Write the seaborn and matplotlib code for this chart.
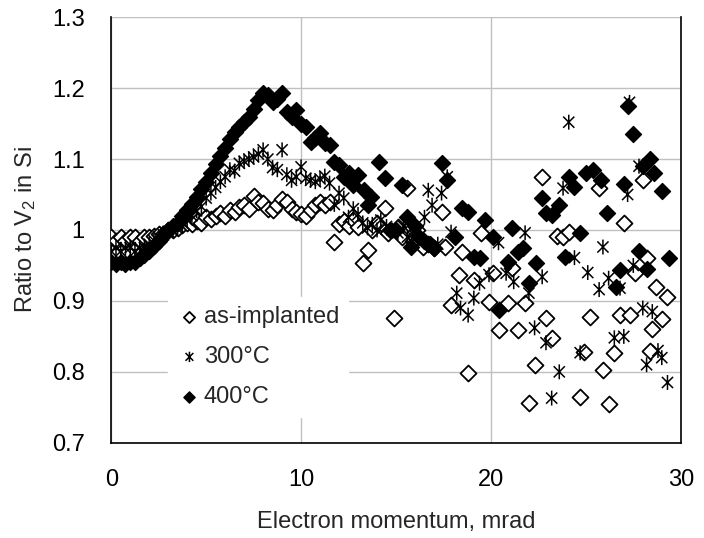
import numpy as np
import pandas as pd
import seaborn as sns
import matplotlib.pyplot as plt
from matplotlib.path import Path

# as-implanted (open diamonds)
x_asimp = [0, 0.25, 0.5, 0.75, 1.0, 1.25, 1.5, 1.75, 2.0, 2.25, 2.5, 2.75, 3.0, 3.25, 3.5, 3.75,
           4.0, 4.25, 4.5, 4.75, 5.0, 5.25, 5.5, 5.75, 6.0, 6.25, 6.5, 6.75, 7.0, 7.25, 7.5, 7.75,
           8.0, 8.25, 8.5, 8.75, 9.0, 9.25, 9.5, 9.75, 10.0, 10.25, 10.5, 10.75, 11.0, 11.25, 11.5,
           11.75, 12.0, 12.25, 12.5, 12.75, 13.0, 13.25, 13.5, 13.75, 14.0, 14.4, 14.6, 14.9, 15.1,
           15.3, 15.6, 15.9, 16.1, 16.4, 16.7, 17.0, 17.4, 17.6, 17.9, 18.3, 18.5, 18.8, 19.1, 19.5,
           19.9, 20.1, 20.4, 20.9, 21.1, 21.4, 21.8, 22.0, 22.3, 22.7, 22.9, 23.2, 23.5, 23.8, 24.1,
           24.7, 24.9, 25.2, 25.7, 25.9, 26.2, 26.5, 26.8, 27.0, 27.3, 27.6, 28.0, 28.2, 28.4, 28.5,
           28.7, 29.0, 29.3]
y_asimp = [0.99, 0.985, 0.99, 0.985, 0.99, 0.99, 0.985, 0.99, 0.99, 0.992, 0.995, 0.995, 1.0, 1.0,
           1.003, 1.007, 1.01, 1.008, 1.013, 1.01, 1.018, 1.015, 1.02, 1.024, 1.02, 1.028, 1.025,
           1.032, 1.035, 1.03, 1.048, 1.04, 1.038, 1.03, 1.028, 1.035, 1.044, 1.04, 1.03, 1.025,
           1.022, 1.02, 1.028, 1.035, 1.04, 1.035, 1.04, 0.983, 1.008, 1.012, 1.005, 1.014, 1.004,
           0.954, 0.972, 1.0, 1.01, 1.031, 0.996, 0.876, 1.004, 0.99, 1.059, 0.985, 1.0, 0.976, 0.98,
           0.975, 1.025, 0.976, 0.894, 0.937, 0.969, 0.799, 0.93, 0.996, 0.899, 0.94, 0.859, 0.897,
           0.946, 0.859, 0.897, 0.756, 0.81, 1.075, 0.876, 0.848, 0.992, 0.99, 0.997, 0.765, 0.828,
           0.877, 1.059, 0.803, 0.754, 0.827, 0.88, 1.01, 0.88, 0.94, 1.07, 0.96, 0.83, 0.86, 0.92,
           0.875, 0.905]

# 300°C (asterisks)
x_300 = [0, 0.25, 0.5, 0.75, 1.0, 1.25, 1.5, 1.75, 2.0, 2.25, 2.5, 2.75, 3.0, 3.25, 3.5, 3.75,
         4.0, 4.25, 4.5, 4.75, 5.0, 5.25, 5.5, 5.75, 6.0, 6.25, 6.5, 6.75, 7.0, 7.25, 7.5, 7.75,
         8.0, 8.25, 8.5, 8.75, 9.0, 9.25, 9.5, 9.75, 10.0, 10.25, 10.5, 10.75, 11.0, 11.25, 11.5,
         11.75, 12.0, 12.25, 12.5, 12.75, 13.0, 13.25, 13.5, 13.75, 14.0, 14.2, 14.5, 14.8, 15.1,
         15.4, 15.6, 15.9, 16.2, 16.5, 16.7, 16.9, 17.2, 17.4, 17.7, 17.9, 18.2, 18.4, 18.8, 19.1,
         19.4, 19.9, 20.4, 20.8, 21.2, 21.8, 22.0, 22.3, 22.7, 22.9, 23.2, 23.6, 23.8, 24.1, 24.4,
         24.7, 25.1, 25.7, 25.9, 26.2, 26.5, 26.8, 27.0, 27.2, 27.3, 27.5, 27.8, 28.0, 28.2, 28.5,
         28.8, 29.0, 29.3]
y_300 = [0.97, 0.975, 0.97, 0.975, 0.975, 0.97, 0.975, 0.975, 0.98, 0.985, 0.99, 0.993, 0.998,
         1.0, 1.005, 1.01, 1.014, 1.02, 1.027, 1.033, 1.045, 1.052, 1.06, 1.068, 1.075, 1.085,
         1.083, 1.094, 1.097, 1.1, 1.103, 1.107, 1.113, 1.1, 1.088, 1.085, 1.113, 1.078, 1.07,
         1.075, 1.089, 1.073, 1.07, 1.068, 1.072, 1.076, 1.066, 1.036, 1.052, 1.045, 1.018, 1.03,
         1.022, 1.01, 1.003, 1.008, 1.0, 1.014, 1.005, 1.0, 0.996, 1.005, 0.99, 0.99, 1.0, 1.018,
         1.056, 1.035, 0.98, 1.052, 1.075, 0.997, 0.911, 0.89, 0.88, 0.904, 0.925, 0.937, 0.982,
         0.939, 0.927, 0.996, 0.911, 0.862, 0.934, 0.841, 0.763, 0.8, 1.059, 1.152, 0.961, 0.827,
         0.94, 0.916, 0.976, 0.932, 0.848, 0.918, 0.85, 1.05, 1.18, 0.95, 1.09, 0.89, 0.81, 0.885,
         0.83, 0.82, 0.785]

# 400°C (filled diamonds)
x_400 = [0, 0.25, 0.5, 0.75, 1.0, 1.25, 1.5, 1.75, 2.0, 2.25, 2.5, 2.75, 3.0, 3.25, 3.5, 3.75,
         4.0, 4.25, 4.5, 4.75, 5.0, 5.25, 5.5, 5.75, 6.0, 6.25, 6.5, 6.75, 7.0, 7.25, 7.5, 7.75,
         8.0, 8.25, 8.5, 8.75, 9.0, 9.25, 9.5, 9.75, 10.0, 10.25, 10.5, 10.75, 11.0, 11.25, 11.5,
         11.75, 12.0, 12.25, 12.5, 12.75, 13.0, 13.3, 13.5, 13.7, 14.1, 14.4, 14.7, 15.0, 15.3,
         15.6, 15.8, 16.0, 16.2, 16.5, 16.8, 17.0, 17.4, 17.7, 18.1, 18.5, 18.8, 19.1, 19.4, 19.7,
         20.1, 20.4, 20.9, 21.1, 21.4, 21.7, 22.0, 22.4, 22.7, 22.9, 23.2, 23.6, 23.9, 24.1, 24.4,
         24.7, 25.0, 25.4, 25.8, 26.1, 26.6, 26.8, 27.0, 27.2, 27.5, 27.8, 28.0, 28.2, 28.4, 28.6,
         29.0, 29.4]
y_400 = [0.955, 0.952, 0.955, 0.952, 0.955, 0.955, 0.96, 0.965, 0.97, 0.978, 0.985, 0.992, 1.0,
         1.005, 1.01, 1.02, 1.028, 1.037, 1.047, 1.058, 1.068, 1.08, 1.093, 1.105, 1.115, 1.128,
         1.138, 1.145, 1.152, 1.16, 1.17, 1.183, 1.193, 1.19, 1.18, 1.185, 1.193, 1.166, 1.16,
         1.169, 1.15, 1.145, 1.124, 1.13, 1.137, 1.122, 1.12, 1.096, 1.091, 1.075, 1.08, 1.063,
         1.077, 1.056, 1.035, 1.046, 1.096, 1.073, 1.0, 1.0, 1.063, 1.018, 0.976, 1.005, 0.99,
         0.985, 0.98, 0.975, 1.094, 1.07, 0.99, 1.031, 1.025, 0.962, 0.961, 1.014, 0.99, 0.887,
         0.955, 1.003, 0.969, 0.975, 0.925, 0.954, 1.045, 1.024, 1.021, 1.035, 0.962, 1.075, 1.061,
         0.996, 1.08, 1.085, 1.07, 1.024, 0.92, 0.944, 1.065, 1.175, 1.135, 0.97, 1.09, 0.945, 1.1,
         1.08, 1.055, 0.96]

x_ticks = [0, 10, 20, 30]
y_ticks = [0.7, 0.8, 0.9, 1.0, 1.1, 1.2, 1.3]
y_ticklabels = ["0.7", "0.8", "0.9", "1", "1.1", "1.2", "1.3"]

# Excel-style star: vertical bar plus an X
star = Path([(0, -1), (0, 1), (-0.75, -0.75), (0.75, 0.75), (-0.75, 0.75), (0.75, -0.75)],
            [Path.MOVETO, Path.LINETO, Path.MOVETO, Path.LINETO, Path.MOVETO, Path.LINETO])

sns.set_style("white")
plt.rcParams["font.family"] = ["Liberation Sans", "DejaVu Sans"]
# keep the subscript in the same face as the rest of the label
plt.rcParams["mathtext.fontset"] = "custom"
plt.rcParams["mathtext.rm"] = "Liberation Sans"

fig = plt.figure(figsize=(7.04, 5.38), dpi=100)
ax = fig.add_axes([0.158, 0.177, 0.809, 0.791])

df_a = pd.DataFrame({"x": x_asimp, "y": y_asimp})
df_3 = pd.DataFrame({"x": x_300, "y": y_300})
df_4 = pd.DataFrame({"x": x_400, "y": y_400})

sns.scatterplot(data=df_a, x="x", y="y", marker="D", s=66, facecolor="white",
                edgecolor="black", linewidth=1.3, label="as-implanted", ax=ax, zorder=3)
sns.scatterplot(data=df_3, x="x", y="y", marker=star, s=115, facecolor="none",
                edgecolor="black", linewidth=1.1, label="300°C", ax=ax, zorder=3)
sns.scatterplot(data=df_4, x="x", y="y", marker="D", s=66, facecolor="black",
                edgecolor="black", linewidth=1.0, label="400°C", ax=ax, zorder=3)

ax.set_xlim(0, 30)
ax.set_ylim(0.7, 1.3)
ax.set_xticks(x_ticks)
ax.set_yticks(y_ticks)
ax.set_yticklabels(y_ticklabels)
ax.grid(True, color="#c0c0c0", linewidth=1.0)
ax.set_axisbelow(True)
ax.tick_params(direction="in", length=5, width=1, labelsize=17, colors="black", pad=19)

for side in ["left", "bottom", "right"]:
    ax.spines[side].set_color("black")
    ax.spines[side].set_linewidth(1.2)
ax.spines["top"].set_visible(False)

ax.set_xlabel("Electron momentum, mrad", fontsize=17, labelpad=14)
ax.set_ylabel(r"Ratio to V$\mathregular{_2}$ in Si", fontsize=17, labelpad=10)

leg = ax.legend(loc="lower left", bbox_to_anchor=(0.10, 0.06), borderaxespad=0,
                frameon=True, fontsize=17, handletextpad=0.1, labelspacing=0.75,
                borderpad=0.4, handlelength=1.0, markerscale=0.7)
leg.get_frame().set_facecolor("white")
leg.get_frame().set_edgecolor("white")
leg.get_frame().set_alpha(1)

fig.savefig("out.png", dpi=100)
